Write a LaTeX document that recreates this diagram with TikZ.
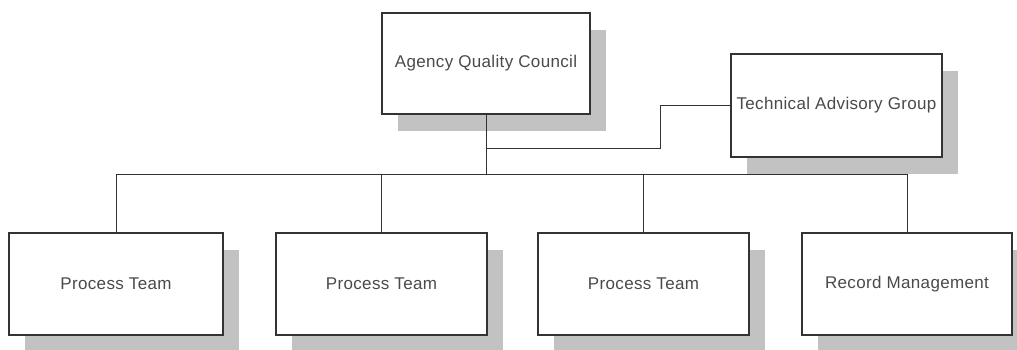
\documentclass[tikz,border=0pt]{standalone}
\usepackage{fontspec}
\setmainfont{Liberation Sans}
\usetikzlibrary{shadows}
\definecolor{txt}{HTML}{4A4A4A}
\definecolor{edge}{HTML}{333333}
\definecolor{shade}{HTML}{C2C2C2}
\begin{document}
\begin{tikzpicture}[x=1pt,y=-1pt,
  orgbox/.style={draw=edge, line width=1.3pt, fill=white, text=txt,
    font=\fontsize{17}{19}\selectfont\addfontfeatures{LetterSpace=2},
    minimum height=102pt, inner sep=0pt,
    general shadow={fill=shade, shadow xshift=16pt, shadow yshift=-17pt}},
  link/.style={draw=edge, line width=0.9pt}]
\useasboundingbox (0,0) rectangle (1017,349);
\clip (0,0) rectangle (1017,349);
\fill[white] (0,0) rectangle (1017,349);
\node[orgbox, minimum width=208pt, minimum height=101pt] (aqc) at (486,63.5) {Agency Quality Council};
\node[orgbox, minimum width=211pt, minimum height=103pt] (tag) at (836.5,105.5) {Technical Advisory Group};
\node[orgbox, minimum width=214pt] (pt1) at (116,284) {Process Team};
\node[orgbox, minimum width=211pt] (pt2) at (381.5,284) {Process Team};
\node[orgbox, minimum width=211pt] (pt3) at (643.5,284) {Process Team};
\node[orgbox, minimum width=210pt] (rm) at (907,284) {Record Management};
\coordinate (bus) at (0,174);
\coordinate (tk) at (660,148);
\draw[link] (aqc.south) -- (aqc.south |- bus);
\draw[link] (pt1.north) |- (bus -| rm.north) -- (rm.north);
\draw[link] (pt2.north) -- (pt2.north |- bus);
\draw[link] (pt3.north) -- (pt3.north |- bus);
\draw[link] (tag.west) -| (tk) -- (tk -| aqc.south);
\end{tikzpicture}
\end{document}
